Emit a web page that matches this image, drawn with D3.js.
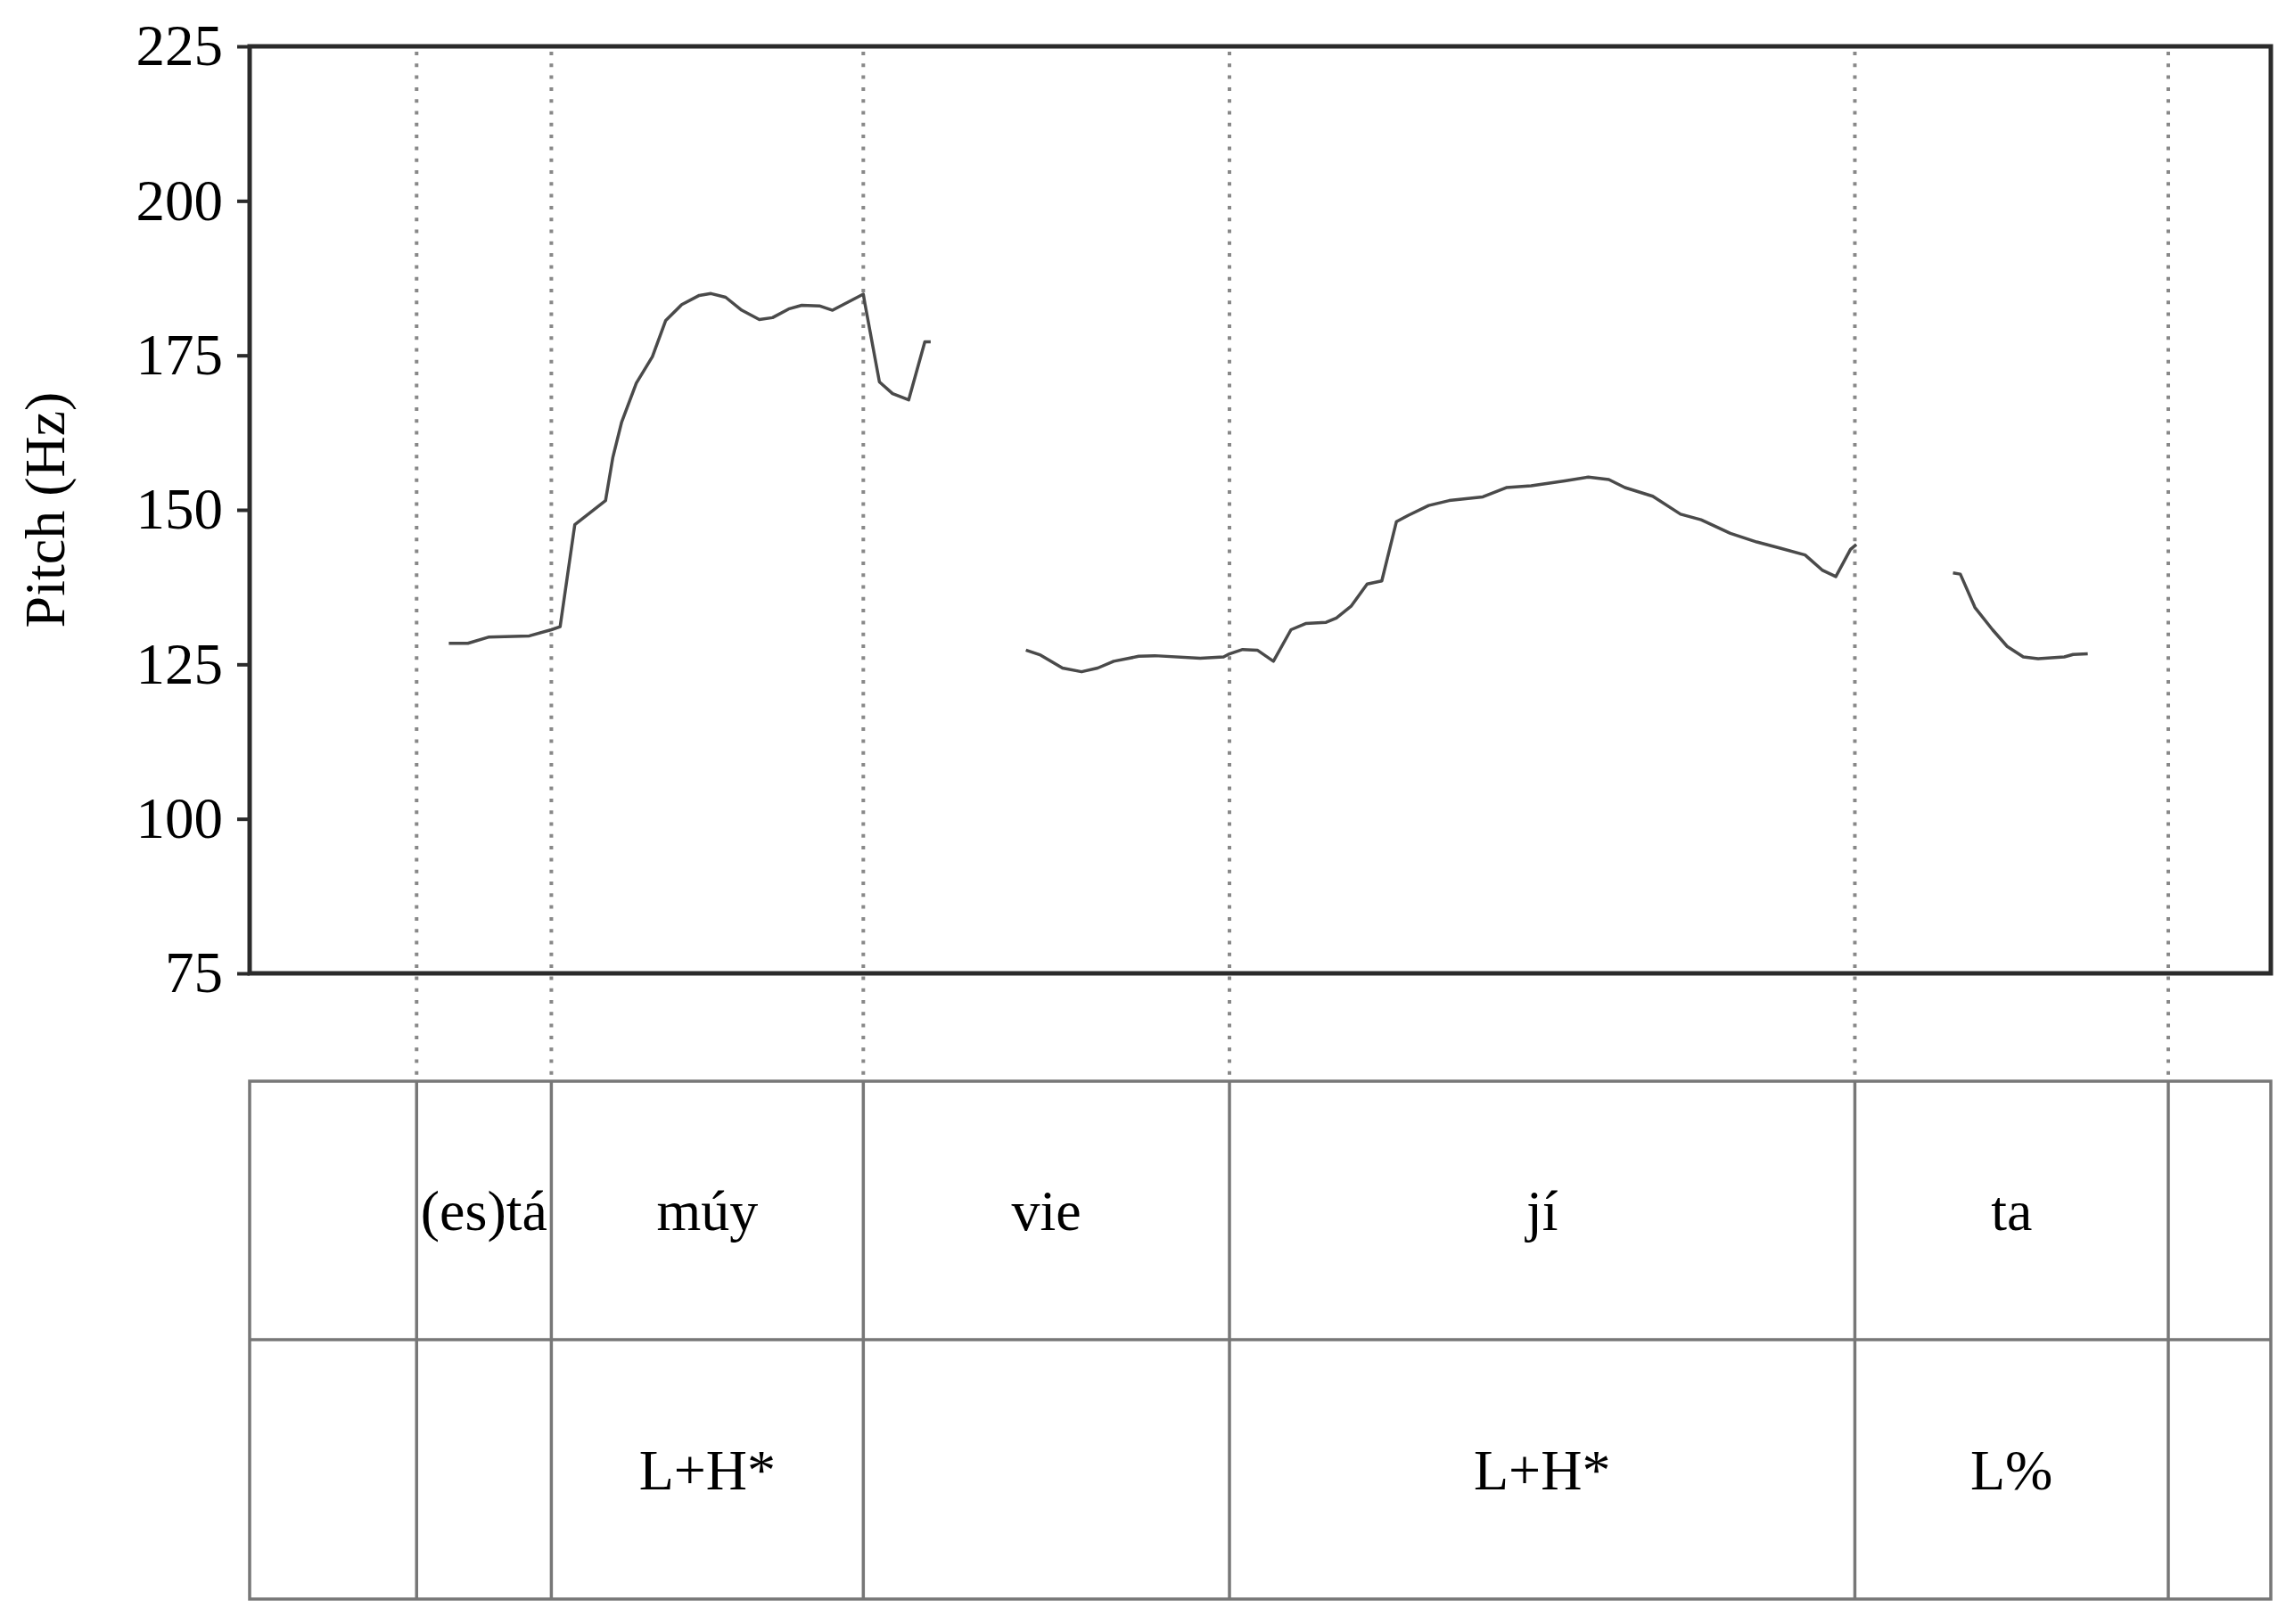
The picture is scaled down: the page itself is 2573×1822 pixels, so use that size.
<!DOCTYPE html>
<html>
<head>
<meta charset="utf-8">
<script src="https://cdn.jsdelivr.net/npm/d3@7"></script>
<style>
  body { margin: 0; background: #fff; }
  svg { display: block; font-family: "Liberation Serif", "Times New Roman", serif; }
</style>
</head>
<body>
<div id="vis"></div>
<script>
const FRAME_WIDTH = 2573;
const FRAME_HEIGHT = 1822;
const PLOT = {left: 280, right: 2547, top: 52, bottom: 1092};
const TIER = {top: 1213, mid: 1503, bottom: 1794};

// time (s) and pitch (Hz), one array pair per voiced stretch
const seg1Time = [0.136, 0.149, 0.163, 0.191, 0.206, 0.212, 0.222, 0.243, 0.248, 0.254,
                  0.264, 0.275, 0.284, 0.295, 0.307, 0.315, 0.325, 0.336, 0.348, 0.357,
                  0.368, 0.377, 0.389, 0.398, 0.419, 0.420, 0.430, 0.439, 0.450, 0.461, 0.465];
const seg1Hz = [128.4, 128.4, 129.4, 129.6, 130.6, 131.1, 147.6, 151.5, 158.5, 164.2,
                170.5, 174.8, 180.6, 183.2, 184.7, 185.0, 184.4, 182.3, 180.8, 181.1,
                182.5, 183.1, 183.0, 182.3, 184.9, 183.5, 170.7, 168.8, 167.8, 177.2, 177.2];
const seg2Time = [0.530, 0.540, 0.555, 0.568, 0.579, 0.590, 0.607, 0.618, 0.649, 0.665,
                  0.669, 0.678, 0.688, 0.699, 0.711, 0.721, 0.735, 0.742, 0.752, 0.763,
                  0.773, 0.783, 0.791, 0.805, 0.819, 0.842, 0.858, 0.875, 0.898, 0.914,
                  0.928, 0.939, 0.958, 0.977, 0.991, 1.011, 1.029, 1.045, 1.062, 1.074,
                  1.083, 1.093, 1.097];
const seg2Hz = [127.3, 126.5, 124.4, 123.8, 124.4, 125.5, 126.3, 126.4, 126.0, 126.2,
                126.7, 127.4, 127.3, 125.5, 130.6, 131.6, 131.8, 132.5, 134.4, 138.0,
                138.5, 148.1, 149.1, 150.7, 151.5, 152.1, 153.6, 153.9, 154.7, 155.3,
                154.9, 153.6, 152.2, 149.3, 148.4, 146.2, 144.8, 143.8, 142.7, 140.2,
                139.2, 143.6, 144.4];
const seg3Time = [1.163, 1.168, 1.178, 1.190, 1.200, 1.211, 1.221, 1.239, 1.245, 1.255];
const seg3Hz = [139.8, 139.6, 134.2, 130.6, 127.9, 126.2, 125.9, 126.2, 126.6, 126.7];

// interval boundaries (s), shared by both tiers
const boundaries = [0.114, 0.206, 0.419, 0.669, 1.096, 1.310];
const wordLabels = ["", "(es)tá", "múy", "vie", "jí", "ta", ""];
const toneLabels = ["", "", "L+H*", "", "L+H*", "L%", ""];
const yTicks = [75, 100, 125, 150, 175, 200, 225];
const DURATION = 1.38;

const svg = d3.select("#vis")
  .append("svg")
    .attr("width", FRAME_WIDTH)
    .attr("height", FRAME_HEIGHT);

const X_SCALE = d3.scaleLinear().domain([0, DURATION]).range([PLOT.left, PLOT.right]);
const Y_SCALE = d3.scaleLinear().domain([75, 225]).range([PLOT.bottom, PLOT.top]);

// dotted boundary lines from the plot down to the tiers
svg.selectAll(".dot-line")
  .data(boundaries)
  .enter()
  .append("line")
    .attr("x1", d => X_SCALE(d))
    .attr("x2", d => X_SCALE(d))
    .attr("y1", PLOT.top + 6)
    .attr("y2", TIER.top)
    .attr("stroke", "#888")
    .attr("stroke-width", 4)
    .attr("stroke-dasharray", "4,9.3");

// pitch contour
const line = d3.line()
  .x(d => X_SCALE(d[0]))
  .y(d => Y_SCALE(d[1]));

const segments = [
  seg1Time.map((t, i) => [t, seg1Hz[i]]),
  seg2Time.map((t, i) => [t, seg2Hz[i]]),
  seg3Time.map((t, i) => [t, seg3Hz[i]])
];

svg.selectAll(".pitch")
  .data(segments)
  .enter()
  .append("path")
    .attr("d", line)
    .attr("fill", "none")
    .attr("stroke", "#4a4a4a")
    .attr("stroke-width", 3.5)
    .attr("stroke-linejoin", "round");

// plot frame
svg.append("rect")
  .attr("x", PLOT.left)
  .attr("y", PLOT.top)
  .attr("width", PLOT.right - PLOT.left)
  .attr("height", PLOT.bottom - PLOT.top)
  .attr("fill", "none")
  .attr("stroke", "#2b2b2b")
  .attr("stroke-width", 5);

// y axis
const yAxis = svg.append("g")
  .attr("transform", "translate(" + PLOT.left + ",0)")
  .call(d3.axisLeft(Y_SCALE).tickValues(yTicks).tickSize(14).tickPadding(16));
yAxis.select(".domain").remove();
yAxis.selectAll(".tick line").attr("stroke", "#2b2b2b").attr("stroke-width", 4);
yAxis.selectAll(".tick text")
  .attr("font-family", "'Liberation Serif', 'Times New Roman', serif")
  .attr("font-size", 65)
  .attr("fill", "#000");

svg.append("text")
  .attr("transform", "translate(72," + ((PLOT.top + PLOT.bottom) / 2) + ") rotate(-90)")
  .attr("text-anchor", "middle")
  .attr("font-size", 64)
  .attr("fill", "#000")
  .text("Pitch (Hz)");

// tiers
const tierStroke = "#777";
svg.append("rect")
  .attr("x", PLOT.left)
  .attr("y", TIER.top)
  .attr("width", PLOT.right - PLOT.left)
  .attr("height", TIER.bottom - TIER.top)
  .attr("fill", "none")
  .attr("stroke", tierStroke)
  .attr("stroke-width", 3.5);

svg.append("line")
  .attr("x1", PLOT.left).attr("x2", PLOT.right)
  .attr("y1", TIER.mid).attr("y2", TIER.mid)
  .attr("stroke", tierStroke)
  .attr("stroke-width", 3.5);

svg.selectAll(".tier-line")
  .data(boundaries)
  .enter()
  .append("line")
    .attr("x1", d => X_SCALE(d))
    .attr("x2", d => X_SCALE(d))
    .attr("y1", TIER.top)
    .attr("y2", TIER.bottom)
    .attr("stroke", tierStroke)
    .attr("stroke-width", 3.5);

const edges = [0].concat(boundaries, [DURATION]);
function drawTier(labels, top, bottom) {
  svg.selectAll(null)
    .data(labels)
    .enter()
    .append("text")
      .attr("x", (d, i) => (X_SCALE(edges[i]) + X_SCALE(edges[i + 1])) / 2)
      .attr("y", (top + bottom) / 2 + 22)
      .attr("text-anchor", "middle")
      .attr("font-size", 64)
      .attr("fill", "#000")
      .text(d => d);
}
drawTier(wordLabels, TIER.top, TIER.mid);
drawTier(toneLabels, TIER.mid, TIER.bottom);
</script>
</body>
</html>
